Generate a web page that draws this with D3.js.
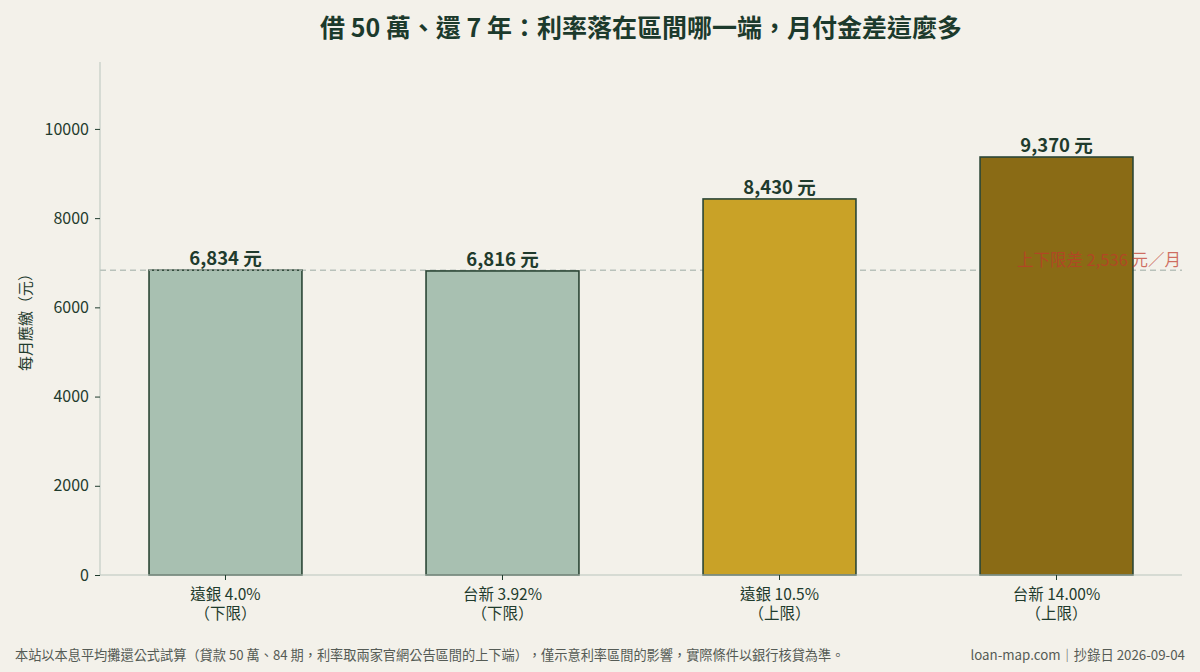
<!DOCTYPE html>
<html>
<head>
<meta charset="utf-8">
<script src="https://cdn.jsdelivr.net/npm/d3@7"></script>
<style>
  html, body { margin: 0; padding: 0; background: #f3f1ea; }
  svg { display: block; font-family: "Noto Sans CJK TC", "Noto Sans", sans-serif; }
  svg text { text-spacing-trim: space-all; }
</style>
</head>
<body>
<div id="chart"></div>
<script>
const width = 1200;
const height = 672;

// data
const banks = ["遠銀 4.0%", "台新 3.92%", "遠銀 10.5%", "台新 14.00%"];
const bounds = ["（下限）", "（下限）", "（上限）", "（上限）"];
const payments = [6834, 6816, 8430, 9370];
const barColors = ["#a8c0b1", "#a8c0b1", "#c9a227", "#8a6b15"];
const yTicks = [0, 2000, 4000, 6000, 8000, 10000];
const gapText = "上下限差 2,536 元／月";

const margin = { top: 62, right: 18, bottom: 97, left: 100 };

const svg = d3.select("#chart")
  .append("svg")
  .attr("width", width)
  .attr("height", height);

svg.append("rect")
  .attr("width", width)
  .attr("height", height)
  .attr("fill", "#f3f1ea");

const x = d3.scaleBand()
  .domain(banks)
  .range([margin.left, width - margin.right])
  .paddingInner(0.448)
  .paddingOuter(0.177);

const y = d3.scaleLinear()
  .domain([0, 11500])
  .range([height - margin.bottom, margin.top]);

const axisColor = "#b9c5bd";
const textColor = "#1f3b2d";

// reference line at lower bound
svg.append("line")
  .attr("x1", margin.left)
  .attr("x2", width - margin.right)
  .attr("y1", y(payments[0]))
  .attr("y2", y(payments[0]))
  .attr("stroke", "#b9c2bb")
  .attr("stroke-width", 1.5)
  .attr("stroke-dasharray", "6,4");

// bars
svg.selectAll(".bar")
  .data(payments)
  .enter().append("rect")
  .attr("class", "bar")
  .attr("x", (d, i) => x(banks[i]))
  .attr("y", d => y(d))
  .attr("width", x.bandwidth())
  .attr("height", d => y(0) - y(d))
  .attr("fill", (d, i) => barColors[i])
  .attr("stroke", "#2b4636")
  .attr("stroke-width", 1.6);

// the line crosses the first bar's top edge
svg.append("line")
  .attr("x1", x(banks[0]))
  .attr("x2", x(banks[0]) + x.bandwidth())
  .attr("y1", y(payments[0]))
  .attr("y2", y(payments[0]))
  .attr("stroke", "#b9c2bb")
  .attr("stroke-width", 1.2)
  .attr("stroke-dasharray", "3,2");

// value labels
svg.selectAll(".val")
  .data(payments)
  .enter().append("text")
  .attr("class", "val")
  .attr("x", (d, i) => x(banks[i]) + x.bandwidth() / 2)
  .attr("y", d => y(d) - 5)
  .attr("text-anchor", "middle")
  .attr("fill", textColor)
  .style("font-size", "18.5px")
  .style("font-weight", "bold")
  .text(d => d3.format(",")(d) + " 元");

// gap label
svg.append("text")
  .attr("x", width - margin.right - 1)
  .attr("y", y(payments[0]) - 4)
  .attr("text-anchor", "end")
  .attr("fill", "#c0392b")
  .attr("fill-opacity", 0.72)
  .style("font-size", "16.5px")
  .text(gapText);

// y axis
const yAxis = svg.append("g")
  .attr("transform", `translate(${margin.left},0)`)
  .call(d3.axisLeft(y).tickValues(yTicks).tickSize(5).tickPadding(6).tickFormat(d3.format("d")));
yAxis.select(".domain").attr("stroke", axisColor).attr("d", `M0,${y(0)}V${margin.top}`);
yAxis.selectAll(".tick line").attr("stroke", textColor);
yAxis.selectAll(".tick text")
  .attr("fill", textColor)
  .style("font-size", "16px")
  .style("font-family", "'Noto Sans CJK TC', sans-serif");

// x axis, two-line tick labels
const xAxis = svg.append("g")
  .attr("transform", `translate(0,${y(0)})`)
  .call(d3.axisBottom(x).tickSize(5).tickPadding(6));
xAxis.select(".domain").attr("stroke", axisColor).attr("d", `M${margin.left},0H${width - margin.right}`);
xAxis.selectAll(".tick line").attr("stroke", textColor);
xAxis.selectAll(".tick text").remove();
xAxis.selectAll(".tick").each(function (d, i) {
  const t = d3.select(this).append("text")
    .attr("fill", textColor)
    .attr("text-anchor", "middle")
    .style("font-size", "15.5px")
    .style("font-family", "'Noto Sans CJK TC', sans-serif");
  t.append("tspan").attr("x", 0).attr("y", 25).text(d);
  t.append("tspan").attr("x", 0).attr("y", 44).text(bounds[i]);
});

// y label
svg.append("text")
  .attr("transform", `translate(31,${(y(0) + margin.top) / 2}) rotate(-90)`)
  .attr("text-anchor", "middle")
  .attr("fill", textColor)
  .style("font-size", "15px")
  .text("每月應繳（元）");

// title
svg.append("text")
  .attr("x", 641)
  .attr("y", 37)
  .attr("text-anchor", "middle")
  .attr("fill", "#1c3a2c")
  .style("font-size", "25px")
  .style("font-weight", "bold")
  .text("借 50 萬、還 7 年：利率落在區間哪一端，月付金差這麼多");

// footer
svg.append("text")
  .attr("x", 15)
  .attr("y", 660)
  .attr("fill", "#555b55")
  .style("font-size", "13.2px")
  .text("本站以本息平均攤還公式試算（貸款 50 萬、84 期，利率取兩家官網公告區間的上下端），僅示意利率區間的影響，實際條件以銀行核貸為準。");

svg.append("text")
  .attr("x", 1185)
  .attr("y", 660)
  .attr("text-anchor", "end")
  .attr("fill", "#555b55")
  .style("font-size", "13.3px")
  .text("loan-map.com｜抄錄日 2026-09-04");
</script>
</body>
</html>
